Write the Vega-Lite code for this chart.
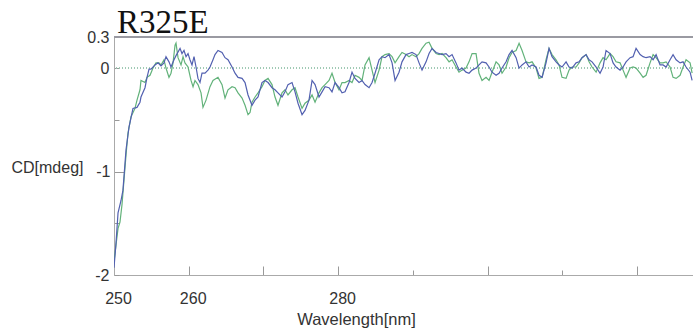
{
  "$schema": "https://vega.github.io/schema/vega-lite/v6.json",
  "width": 579,
  "height": 238,
  "autosize": {"type": "none"},
  "padding": {"left": 114, "top": 37, "right": 0, "bottom": 56},
  "background": "white",
  "config": {"view": {"stroke": null}},
  "title": {"text": "R325E", "font": "Liberation Serif", "fontSize": 33, "fontWeight": "normal", "color": "#111", "anchor": "start", "frame": "group", "dx": 3, "baseline": "alphabetic", "offset": 3, "dy": 40},
  "data": {"values": [
    {"s":"green","nm":250.00,"cd":-1.87},{"s":"green","nm":250.27,"cd":-1.71},{"s":"green","nm":250.54,"cd":-1.55},{"s":"green","nm":250.80,"cd":-1.49},{"s":"green","nm":251.07,"cd":-1.32},{"s":"green","nm":251.34,"cd":-1.08},{"s":"green","nm":251.61,"cd":-0.84},{"s":"green","nm":251.87,"cd":-0.63},{"s":"green","nm":252.28,"cd":-0.47},{"s":"green","nm":252.81,"cd":-0.39},{"s":"green","nm":253.08,"cd":-0.31},{"s":"green","nm":253.48,"cd":-0.21},{"s":"green","nm":253.61,"cd":-0.12},{"s":"green","nm":254.15,"cd":-0.14},{"s":"green","nm":254.42,"cd":-0.09},{"s":"green","nm":254.82,"cd":-0.07},{"s":"green","nm":255.22,"cd":0.00},{"s":"green","nm":255.62,"cd":0.05},{"s":"green","nm":256.02,"cd":0.05},{"s":"green","nm":256.29,"cd":0.03},{"s":"green","nm":256.69,"cd":0.08},{"s":"green","nm":256.96,"cd":0.00},{"s":"green","nm":257.36,"cd":-0.09},{"s":"green","nm":257.63,"cd":-0.05},{"s":"green","nm":257.90,"cd":0.05},{"s":"green","nm":258.17,"cd":0.22},{"s":"green","nm":258.30,"cd":0.24},{"s":"green","nm":258.57,"cd":0.10},{"s":"green","nm":258.97,"cd":0.03},{"s":"green","nm":259.24,"cd":0.11},{"s":"green","nm":259.50,"cd":0.05},{"s":"green","nm":259.91,"cd":0.01},{"s":"green","nm":260.31,"cd":-0.12},{"s":"green","nm":260.58,"cd":-0.18},{"s":"green","nm":260.84,"cd":-0.12},{"s":"green","nm":261.24,"cd":-0.16},{"s":"green","nm":261.65,"cd":-0.24},{"s":"green","nm":261.91,"cd":-0.38},{"s":"green","nm":262.32,"cd":-0.31},{"s":"green","nm":262.85,"cd":-0.18},{"s":"green","nm":263.25,"cd":-0.12},{"s":"green","nm":263.92,"cd":-0.09},{"s":"green","nm":264.46,"cd":-0.16},{"s":"green","nm":264.86,"cd":-0.29},{"s":"green","nm":265.26,"cd":-0.21},{"s":"green","nm":265.80,"cd":-0.18},{"s":"green","nm":266.20,"cd":-0.19},{"s":"green","nm":266.60,"cd":-0.24},{"s":"green","nm":267.14,"cd":-0.29},{"s":"green","nm":267.54,"cd":-0.36},{"s":"green","nm":267.94,"cd":-0.45},{"s":"green","nm":268.21,"cd":-0.43},{"s":"green","nm":268.47,"cd":-0.33},{"s":"green","nm":268.88,"cd":-0.28},{"s":"green","nm":269.28,"cd":-0.24},{"s":"green","nm":269.81,"cd":-0.18},{"s":"green","nm":270.21,"cd":-0.12},{"s":"green","nm":270.62,"cd":-0.10},{"s":"green","nm":271.15,"cd":-0.16},{"s":"green","nm":271.55,"cd":-0.28},{"s":"green","nm":271.95,"cd":-0.36},{"s":"green","nm":272.49,"cd":-0.24},{"s":"green","nm":272.89,"cd":-0.21},{"s":"green","nm":273.29,"cd":-0.26},{"s":"green","nm":273.83,"cd":-0.21},{"s":"green","nm":274.23,"cd":-0.19},{"s":"green","nm":274.63,"cd":-0.28},{"s":"green","nm":275.17,"cd":-0.39},{"s":"green","nm":275.57,"cd":-0.34},{"s":"green","nm":276.10,"cd":-0.31},{"s":"green","nm":276.51,"cd":-0.26},{"s":"green","nm":276.91,"cd":-0.33},{"s":"green","nm":277.44,"cd":-0.24},{"s":"green","nm":277.85,"cd":-0.19},{"s":"green","nm":278.25,"cd":-0.16},{"s":"green","nm":278.78,"cd":-0.12},{"s":"green","nm":279.18,"cd":-0.05},{"s":"green","nm":279.59,"cd":-0.14},{"s":"green","nm":280.12,"cd":-0.21},{"s":"green","nm":280.52,"cd":-0.14},{"s":"green","nm":280.92,"cd":-0.14},{"s":"green","nm":281.46,"cd":-0.12},{"s":"green","nm":281.86,"cd":-0.14},{"s":"green","nm":282.26,"cd":-0.07},{"s":"green","nm":282.80,"cd":-0.09},{"s":"green","nm":283.20,"cd":-0.12},{"s":"green","nm":283.60,"cd":0.03},{"s":"green","nm":284.14,"cd":0.10},{"s":"green","nm":284.54,"cd":-0.02},{"s":"green","nm":284.94,"cd":-0.14},{"s":"green","nm":285.48,"cd":-0.02},{"s":"green","nm":285.88,"cd":0.11},{"s":"green","nm":286.28,"cd":0.13},{"s":"green","nm":286.81,"cd":0.14},{"s":"green","nm":287.22,"cd":0.11},{"s":"green","nm":287.62,"cd":0.05},{"s":"green","nm":288.15,"cd":0.11},{"s":"green","nm":288.55,"cd":0.15},{"s":"green","nm":289.09,"cd":0.13},{"s":"green","nm":289.49,"cd":0.11},{"s":"green","nm":289.89,"cd":0.13},{"s":"green","nm":290.43,"cd":0.11},{"s":"green","nm":290.83,"cd":0.14},{"s":"green","nm":291.23,"cd":0.19},{"s":"green","nm":291.77,"cd":0.24},{"s":"green","nm":292.17,"cd":0.25},{"s":"green","nm":292.57,"cd":0.19},{"s":"green","nm":293.11,"cd":0.14},{"s":"green","nm":293.51,"cd":0.13},{"s":"green","nm":293.91,"cd":0.14},{"s":"green","nm":294.44,"cd":0.10},{"s":"green","nm":294.85,"cd":0.06},{"s":"green","nm":295.25,"cd":0.08},{"s":"green","nm":295.78,"cd":0.01},{"s":"green","nm":296.18,"cd":-0.04},{"s":"green","nm":296.59,"cd":-0.02},{"s":"green","nm":297.12,"cd":0.00},{"s":"green","nm":297.52,"cd":0.06},{"s":"green","nm":297.93,"cd":0.14},{"s":"green","nm":298.46,"cd":0.14},{"s":"green","nm":298.86,"cd":-0.05},{"s":"green","nm":299.26,"cd":-0.12},{"s":"green","nm":299.80,"cd":-0.09},{"s":"green","nm":300.20,"cd":-0.12},{"s":"green","nm":300.60,"cd":-0.04},{"s":"green","nm":301.14,"cd":0.06},{"s":"green","nm":301.54,"cd":0.03},{"s":"green","nm":301.94,"cd":-0.05},{"s":"green","nm":302.48,"cd":0.01},{"s":"green","nm":302.88,"cd":0.10},{"s":"green","nm":303.28,"cd":0.15},{"s":"green","nm":303.82,"cd":0.17},{"s":"green","nm":304.22,"cd":0.24},{"s":"green","nm":304.62,"cd":0.17},{"s":"green","nm":305.15,"cd":0.06},{"s":"green","nm":305.56,"cd":0.05},{"s":"green","nm":305.96,"cd":0.06},{"s":"green","nm":306.49,"cd":0.00},{"s":"green","nm":306.89,"cd":-0.10},{"s":"green","nm":307.30,"cd":-0.09},{"s":"green","nm":307.83,"cd":0.08},{"s":"green","nm":308.23,"cd":0.19},{"s":"green","nm":308.63,"cd":0.13},{"s":"green","nm":309.17,"cd":0.08},{"s":"green","nm":309.57,"cd":0.03},{"s":"green","nm":309.97,"cd":-0.09},{"s":"green","nm":310.51,"cd":-0.10},{"s":"green","nm":310.91,"cd":-0.02},{"s":"green","nm":311.31,"cd":0.01},{"s":"green","nm":311.85,"cd":0.01},{"s":"green","nm":312.25,"cd":0.05},{"s":"green","nm":312.65,"cd":0.10},{"s":"green","nm":313.19,"cd":0.13},{"s":"green","nm":313.59,"cd":0.06},{"s":"green","nm":313.99,"cd":0.01},{"s":"green","nm":314.53,"cd":-0.04},{"s":"green","nm":315.06,"cd":0.05},{"s":"green","nm":315.46,"cd":0.10},{"s":"green","nm":315.86,"cd":0.08},{"s":"green","nm":316.40,"cd":0.14},{"s":"green","nm":316.80,"cd":0.11},{"s":"green","nm":317.20,"cd":0.06},{"s":"green","nm":317.74,"cd":0.05},{"s":"green","nm":318.14,"cd":-0.02},{"s":"green","nm":318.54,"cd":-0.09},{"s":"green","nm":319.08,"cd":0.00},{"s":"green","nm":319.48,"cd":0.01},{"s":"green","nm":319.88,"cd":0.00},{"s":"green","nm":320.42,"cd":-0.05},{"s":"green","nm":320.82,"cd":-0.09},{"s":"green","nm":321.22,"cd":-0.07},{"s":"green","nm":321.75,"cd":0.05},{"s":"green","nm":322.16,"cd":0.13},{"s":"green","nm":322.56,"cd":0.10},{"s":"green","nm":323.09,"cd":0.05},{"s":"green","nm":323.49,"cd":0.05},{"s":"green","nm":323.90,"cd":0.06},{"s":"green","nm":324.43,"cd":0.01},{"s":"green","nm":324.83,"cd":-0.09},{"s":"green","nm":325.24,"cd":-0.10},{"s":"green","nm":325.77,"cd":-0.07},{"s":"green","nm":326.17,"cd":0.01},{"s":"green","nm":326.57,"cd":0.08},{"s":"green","nm":327.11,"cd":0.05},{"s":"green","nm":327.38,"cd":-0.05},
    {"s":"blue","nm":250.00,"cd":-1.93},{"s":"blue","nm":250.27,"cd":-1.69},{"s":"blue","nm":250.54,"cd":-1.40},{"s":"blue","nm":250.94,"cd":-1.28},{"s":"blue","nm":251.20,"cd":-1.18},{"s":"blue","nm":251.61,"cd":-0.79},{"s":"blue","nm":252.01,"cd":-0.57},{"s":"blue","nm":252.28,"cd":-0.48},{"s":"blue","nm":252.54,"cd":-0.39},{"s":"blue","nm":253.08,"cd":-0.38},{"s":"blue","nm":253.48,"cd":-0.33},{"s":"blue","nm":253.61,"cd":-0.28},{"s":"blue","nm":254.15,"cd":-0.19},{"s":"blue","nm":254.42,"cd":-0.09},{"s":"blue","nm":254.69,"cd":-0.01},{"s":"blue","nm":254.95,"cd":-0.01},{"s":"blue","nm":255.49,"cd":0.03},{"s":"blue","nm":255.89,"cd":0.05},{"s":"blue","nm":256.29,"cd":0.02},{"s":"blue","nm":256.69,"cd":0.05},{"s":"blue","nm":256.96,"cd":0.11},{"s":"blue","nm":257.36,"cd":0.06},{"s":"blue","nm":257.63,"cd":0.01},{"s":"blue","nm":258.03,"cd":0.08},{"s":"blue","nm":258.30,"cd":0.12},{"s":"blue","nm":258.84,"cd":0.19},{"s":"blue","nm":259.10,"cd":0.14},{"s":"blue","nm":259.37,"cd":0.17},{"s":"blue","nm":259.64,"cd":0.11},{"s":"blue","nm":259.91,"cd":0.14},{"s":"blue","nm":260.17,"cd":0.08},{"s":"blue","nm":260.44,"cd":0.03},{"s":"blue","nm":260.71,"cd":0.11},{"s":"blue","nm":260.98,"cd":0.01},{"s":"blue","nm":261.24,"cd":-0.10},{"s":"blue","nm":261.51,"cd":-0.14},{"s":"blue","nm":261.78,"cd":-0.05},{"s":"blue","nm":262.18,"cd":-0.05},{"s":"blue","nm":262.58,"cd":-0.02},{"s":"blue","nm":262.85,"cd":0.01},{"s":"blue","nm":263.25,"cd":0.08},{"s":"blue","nm":263.52,"cd":0.13},{"s":"blue","nm":263.92,"cd":0.17},{"s":"blue","nm":264.46,"cd":0.15},{"s":"blue","nm":264.86,"cd":0.10},{"s":"blue","nm":265.26,"cd":0.08},{"s":"blue","nm":265.80,"cd":0.01},{"s":"blue","nm":266.20,"cd":-0.05},{"s":"blue","nm":266.60,"cd":-0.09},{"s":"blue","nm":267.14,"cd":-0.10},{"s":"blue","nm":267.54,"cd":-0.14},{"s":"blue","nm":267.94,"cd":-0.26},{"s":"blue","nm":268.47,"cd":-0.36},{"s":"blue","nm":268.88,"cd":-0.31},{"s":"blue","nm":269.28,"cd":-0.28},{"s":"blue","nm":269.81,"cd":-0.14},{"s":"blue","nm":270.21,"cd":-0.12},{"s":"blue","nm":270.62,"cd":-0.14},{"s":"blue","nm":271.15,"cd":-0.19},{"s":"blue","nm":271.55,"cd":-0.21},{"s":"blue","nm":271.95,"cd":-0.24},{"s":"blue","nm":272.49,"cd":-0.28},{"s":"blue","nm":272.89,"cd":-0.23},{"s":"blue","nm":273.29,"cd":-0.16},{"s":"blue","nm":273.83,"cd":-0.14},{"s":"blue","nm":274.23,"cd":-0.23},{"s":"blue","nm":274.63,"cd":-0.34},{"s":"blue","nm":275.17,"cd":-0.45},{"s":"blue","nm":275.57,"cd":-0.41},{"s":"blue","nm":276.10,"cd":-0.31},{"s":"blue","nm":276.51,"cd":-0.12},{"s":"blue","nm":276.91,"cd":-0.16},{"s":"blue","nm":277.44,"cd":-0.28},{"s":"blue","nm":277.85,"cd":-0.23},{"s":"blue","nm":278.25,"cd":-0.18},{"s":"blue","nm":278.78,"cd":-0.19},{"s":"blue","nm":279.18,"cd":-0.23},{"s":"blue","nm":279.59,"cd":-0.14},{"s":"blue","nm":280.12,"cd":-0.19},{"s":"blue","nm":280.52,"cd":-0.24},{"s":"blue","nm":280.92,"cd":-0.23},{"s":"blue","nm":281.46,"cd":-0.14},{"s":"blue","nm":281.86,"cd":-0.04},{"s":"blue","nm":282.26,"cd":-0.10},{"s":"blue","nm":282.80,"cd":-0.14},{"s":"blue","nm":283.20,"cd":-0.12},{"s":"blue","nm":283.60,"cd":-0.16},{"s":"blue","nm":284.14,"cd":-0.19},{"s":"blue","nm":284.54,"cd":-0.14},{"s":"blue","nm":284.94,"cd":-0.05},{"s":"blue","nm":285.48,"cd":0.08},{"s":"blue","nm":285.88,"cd":0.11},{"s":"blue","nm":286.28,"cd":0.10},{"s":"blue","nm":286.81,"cd":0.13},{"s":"blue","nm":287.22,"cd":0.05},{"s":"blue","nm":287.62,"cd":-0.12},{"s":"blue","nm":288.15,"cd":-0.04},{"s":"blue","nm":288.55,"cd":0.06},{"s":"blue","nm":289.09,"cd":0.13},{"s":"blue","nm":289.49,"cd":0.14},{"s":"blue","nm":289.89,"cd":0.15},{"s":"blue","nm":290.43,"cd":0.13},{"s":"blue","nm":290.83,"cd":0.05},{"s":"blue","nm":291.23,"cd":-0.02},{"s":"blue","nm":291.77,"cd":0.06},{"s":"blue","nm":292.17,"cd":0.14},{"s":"blue","nm":292.57,"cd":0.19},{"s":"blue","nm":293.11,"cd":0.15},{"s":"blue","nm":293.51,"cd":0.14},{"s":"blue","nm":293.91,"cd":0.13},{"s":"blue","nm":294.44,"cd":0.14},{"s":"blue","nm":294.85,"cd":0.11},{"s":"blue","nm":295.25,"cd":0.13},{"s":"blue","nm":295.78,"cd":0.05},{"s":"blue","nm":296.18,"cd":-0.02},{"s":"blue","nm":296.59,"cd":0.00},{"s":"blue","nm":297.12,"cd":-0.04},{"s":"blue","nm":297.52,"cd":-0.05},{"s":"blue","nm":297.93,"cd":-0.02},{"s":"blue","nm":298.46,"cd":0.00},{"s":"blue","nm":298.86,"cd":0.03},{"s":"blue","nm":299.26,"cd":0.06},{"s":"blue","nm":299.80,"cd":0.05},{"s":"blue","nm":300.20,"cd":0.01},{"s":"blue","nm":300.60,"cd":-0.04},{"s":"blue","nm":301.14,"cd":-0.07},{"s":"blue","nm":301.54,"cd":-0.05},{"s":"blue","nm":301.94,"cd":0.00},{"s":"blue","nm":302.48,"cd":0.06},{"s":"blue","nm":302.88,"cd":0.13},{"s":"blue","nm":303.28,"cd":0.17},{"s":"blue","nm":303.82,"cd":0.10},{"s":"blue","nm":304.22,"cd":0.00},{"s":"blue","nm":304.62,"cd":0.03},{"s":"blue","nm":305.15,"cd":0.06},{"s":"blue","nm":305.56,"cd":0.01},{"s":"blue","nm":305.96,"cd":0.03},{"s":"blue","nm":306.49,"cd":0.01},{"s":"blue","nm":306.89,"cd":-0.07},{"s":"blue","nm":307.30,"cd":-0.09},{"s":"blue","nm":307.83,"cd":0.05},{"s":"blue","nm":308.23,"cd":0.19},{"s":"blue","nm":308.63,"cd":0.11},{"s":"blue","nm":309.17,"cd":0.06},{"s":"blue","nm":309.57,"cd":0.03},{"s":"blue","nm":309.97,"cd":0.01},{"s":"blue","nm":310.51,"cd":0.06},{"s":"blue","nm":310.91,"cd":0.01},{"s":"blue","nm":311.31,"cd":0.00},{"s":"blue","nm":311.85,"cd":0.05},{"s":"blue","nm":312.25,"cd":0.06},{"s":"blue","nm":312.65,"cd":0.10},{"s":"blue","nm":313.19,"cd":0.13},{"s":"blue","nm":313.59,"cd":0.08},{"s":"blue","nm":313.99,"cd":0.06},{"s":"blue","nm":314.53,"cd":0.01},{"s":"blue","nm":315.06,"cd":-0.05},{"s":"blue","nm":315.46,"cd":0.01},{"s":"blue","nm":315.86,"cd":0.17},{"s":"blue","nm":316.40,"cd":0.14},{"s":"blue","nm":316.80,"cd":0.05},{"s":"blue","nm":317.20,"cd":0.01},{"s":"blue","nm":317.74,"cd":-0.02},{"s":"blue","nm":318.14,"cd":0.01},{"s":"blue","nm":318.54,"cd":0.06},{"s":"blue","nm":319.08,"cd":0.10},{"s":"blue","nm":319.48,"cd":0.11},{"s":"blue","nm":319.88,"cd":0.19},{"s":"blue","nm":320.42,"cd":0.13},{"s":"blue","nm":320.82,"cd":0.11},{"s":"blue","nm":321.22,"cd":0.10},{"s":"blue","nm":321.75,"cd":0.11},{"s":"blue","nm":322.16,"cd":0.08},{"s":"blue","nm":322.56,"cd":0.13},{"s":"blue","nm":323.09,"cd":0.03},{"s":"blue","nm":323.49,"cd":0.03},{"s":"blue","nm":323.90,"cd":0.01},{"s":"blue","nm":324.43,"cd":0.08},{"s":"blue","nm":324.83,"cd":0.13},{"s":"blue","nm":325.24,"cd":0.08},{"s":"blue","nm":325.77,"cd":0.05},{"s":"blue","nm":326.17,"cd":0.06},{"s":"blue","nm":326.57,"cd":0.01},{"s":"blue","nm":327.11,"cd":-0.04},{"s":"blue","nm":327.38,"cd":-0.12}
  ]},
  "layer": [
    {
      "mark": {"type": "rule", "stroke": "#9fc9b4", "strokeWidth": 1, "strokeDash": [1, 2]},
      "encoding": {"y": {"datum": 0, "type": "quantitative"}}
    },
    {
      "mark": {"type": "rule", "stroke": "#9a9aa2", "strokeWidth": 1.5},
      "encoding": {"y": {"datum": 0.3, "type": "quantitative"}}
    },
    {
      "mark": {"type": "line", "strokeWidth": 1.2, "clip": true, "interpolate": "linear"},
      "encoding": {
        "x": {"field": "nm", "type": "quantitative",
              "scale": {"domain": [250, 327.5], "nice": false, "zero": false},
              "axis": {"values": [250, 260, 270, 280, 290, 300, 310, 320],
                       "labelExpr": "datum.value == 250 ? '250' : datum.value == 260 ? '260' : datum.value == 280 ? '280' : ''",
                       "tickSize": {"condition": {"test": "datum.value == 290 || datum.value == 310", "value": -5}, "value": -9},
                       "tickColor": "#999", "tickWidth": 1, "domainColor": "#aaa", "domainWidth": 1,
                       "labelFont": "Liberation Sans", "labelFontSize": 16, "labelColor": "#333",
                       "labelPadding": 24, "labelOffset": 4, "labelBaseline": "top", "labelFlush": false,
                       "grid": false,
                       "title": "Wavelength[nm]", "titleFont": "Liberation Sans", "titleFontSize": 16.5,
                       "titleFontWeight": "normal", "titleColor": "#333",
                       "titleX": 242, "titleY": 44, "titleBaseline": "middle", "titleAlign": "center"}},
        "y": {"field": "cd", "type": "quantitative",
              "scale": {"domain": [-2, 0.3], "nice": false, "zero": false},
              "axis": {"values": [-2, -1.5, -1, -0.5, 0, 0.3],
                       "labelExpr": "datum.value == -2 ? '-2' : datum.value == -1 ? '-1' : datum.value == 0 ? '0' : datum.value == 0.3 ? '0.3' : ''",
                       "tickSize": {"condition": {"test": "datum.value == -1", "value": -10}, "value": -5},
                       "labelPadding": {"condition": {"test": "datum.value == -1", "value": 14}, "value": 10},
                       "tickColor": "#999", "domainColor": "#aaa", "domainWidth": 1,
                       "labelFont": "Liberation Sans", "labelFontSize": 16, "labelColor": "#333",
                       "labelFlush": false, "grid": false,
                       "title": "CD[mdeg]", "titleAngle": 0, "titleFont": "Liberation Sans", "titleFontSize": 16,
                       "titleFontWeight": "normal", "titleColor": "#333",
                       "titleX": -31, "titleY": 130, "titleAlign": "right", "titleBaseline": "middle"}},
        "color": {"field": "s", "type": "nominal",
                  "scale": {"domain": ["green", "blue"], "range": ["#62b27a", "#5260b0"]},
                  "legend": null},
        "order": {"field": "nm", "type": "quantitative"}
      }
    }
  ]
}
